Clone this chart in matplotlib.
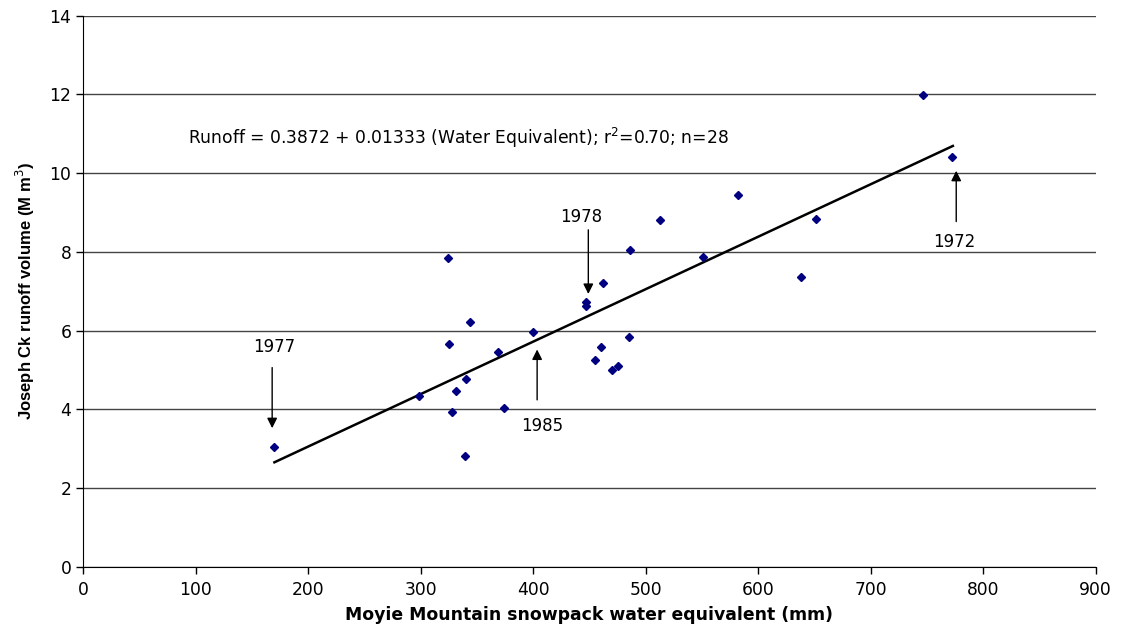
import matplotlib.pyplot as plt

# snowpack water equivalent (mm) and runoff volume (M m3), 28 years
swe = [170, 298.6, 324.1, 325, 327.9, 331.2, 339.2, 340.1, 343.9, 369.1,
       374.1, 400.2, 446.8, 446.8, 454.8, 460.1, 461.9, 469.9, 475.2, 485.2,
       485.9, 512.8, 551.3, 582.4, 637.9, 651.2, 746.8, 772.1]
runoff = [3.05, 4.35, 7.85, 5.66, 3.93, 4.47, 2.81, 4.77, 6.21, 5.45,
          4.04, 5.96, 6.73, 6.63, 5.26, 5.58, 7.20, 5.01, 5.11, 5.84,
          8.05, 8.82, 7.87, 9.45, 7.37, 8.83, 11.99, 10.40]

intercept = 0.3872
slope = 0.01333
fit_x = [170, 773]

# year labels: (label, text xy, arrow tail, arrow head)
notes = [
    ("1977", (170, 5.59), (168, 5.06), (168, 3.52)),
    ("1978", (443, 8.89), (449, 8.56), (449, 6.93)),
    ("1985", (408, 3.58), (403.5, 4.24), (403.5, 5.52)),
    ("1972", (774, 8.24), (776, 8.77), (776, 10.06)),
]

plt.rcParams['font.family'] = ['DejaVu Sans']

fig = plt.figure(figsize=(11.22, 6.29), dpi=100)
ax = fig.add_axes([0.0741, 0.099, 0.9025, 0.876])

ax.set_xlim(0, 900)
ax.set_ylim(0, 14)
ax.set_xticks(range(0, 901, 100))
ax.set_yticks(range(0, 15, 2))
ax.grid(axis='y', color='#444444', linewidth=1.0)
ax.set_axisbelow(True)
for s in ['top', 'right']:
    ax.spines[s].set_visible(False)
ax.tick_params(axis='both', direction='out', length=5, width=1, labelsize=12.3)
ax.tick_params(axis='x', pad=5)

ax.plot(swe, runoff, 'D', color='#000080', markersize=4.5, zorder=3)
fit_y = [intercept + slope * v for v in fit_x]
ax.plot(fit_x, fit_y, color='black', linewidth=1.8, zorder=2)

ax.text(93, 10.9, "Runoff = 0.3872 + 0.01333 (Water Equivalent); r$^{2}$=0.70; n=28",
        fontsize=12.3, va='center', ha='left')

for lab, txy, tail, head in notes:
    ax.text(txy[0], txy[1], lab, fontsize=12, ha='center', va='center')
    ax.annotate('', xy=head, xytext=tail,
                arrowprops=dict(arrowstyle='-|>', color='black', lw=1.0,
                                mutation_scale=15, shrinkA=0, shrinkB=0))

ax.set_xlabel("Moyie Mountain snowpack water equivalent (mm)", fontsize=12.4,
              fontweight='bold', labelpad=5)
ax.set_ylabel("Joseph Ck runoff volume (M m$^{3}$)", fontsize=12,
              fontweight='bold', labelpad=9,
              family=['Liberation Sans', 'DejaVu Sans'])

fig.savefig("out.png", dpi=100)
